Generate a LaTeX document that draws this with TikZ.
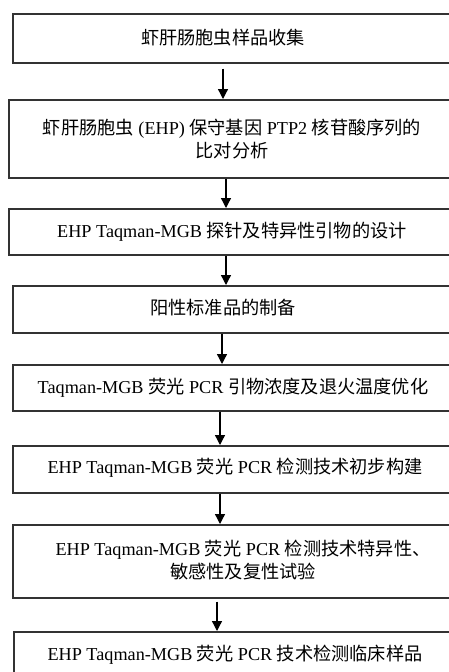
\documentclass[tikz,border=0pt]{standalone}
\usepackage{fontspec}
\setmainfont{Liberation Serif}
\newfontfamily\cjk{Noto Sans CJK SC}
\newcommand\zh[1]{{\cjk #1}}
\usetikzlibrary{arrows.meta}
\tikzset{
  box/.style={draw=black!80, line width=1.5pt, rectangle, anchor=north west, inner sep=0pt},
  lbl/.style={inner sep=0pt, align=center, font=\fontsize{18.2}{23}\selectfont},
  arr/.style={line width=1.3pt, draw=black, -{Triangle[width=10pt,length=10pt]}}
}
\begin{document}
\begin{tikzpicture}[x=1pt,y=-1pt]
\useasboundingbox (0,0) rectangle (449,672);
\clip (0,0) rectangle (449,672);
\node[box, minimum width=468pt, minimum height=49pt] (b1) at (12,13) {};
\node[box, minimum width=472pt, minimum height=78pt] (b2) at (8,99) {};
\node[box, minimum width=472pt, minimum height=46pt] (b3) at (8,208) {};
\node[box, minimum width=468pt, minimum height=47pt] (b4) at (12,285) {};
\node[box, minimum width=468pt, minimum height=46pt] (b5) at (12,364) {};
\node[box, minimum width=468pt, minimum height=47pt] (b6) at (12,445) {};
\node[box, minimum width=468pt, minimum height=73pt] (b7) at (12,524) {};
\node[box, minimum width=467pt, minimum height=60pt] (b8) at (13,631) {};

\node[lbl] (t1) at (223,38) {\zh{虾肝肠胞虫样品收集}};
\node[lbl] (t2) at (232,139) {\zh{虾肝肠胞虫} (EHP) \zh{保守基因} PTP2 \zh{核苷酸序列的}\\\zh{比对分析}};
\node[lbl] (t3) at (232,232) {EHP Taqman-MGB \zh{探针及特异性引物的设计}};
\node[lbl] (t4) at (223,308) {\zh{阳性标准品的制备}};
\node[lbl] (t5) at (233,388) {Taqman-MGB \zh{荧光} PCR \zh{引物浓度及退火温度优化}};
\node[lbl] (t6) at (235,468) {EHP Taqman-MGB \zh{荧光} PCR \zh{检测技术初步构建}};
\node[lbl] (t7) at (243,560) {EHP Taqman-MGB \zh{荧光} PCR \zh{检测技术特异性、}\\\zh{敏感性及复性试验}};
\node[lbl] (t8) at (235,655) {EHP Taqman-MGB \zh{荧光} PCR \zh{技术检测临床样品}};

\draw[arr] ([yshift=-5pt]b1.south -| 223,0) -- (b2.north -| 223,0);
\draw[arr] (b2.south -| 226,0) -- (b3.north -| 226,0);
\draw[arr] (b3.south -| 226,0) -- (b4.north -| 226,0);
\draw[arr] (b4.south -| 222,0) -- (b5.north -| 222,0);
\draw[arr] (b5.south -| 220,0) -- (b6.north -| 220,0);
\draw[arr] (b6.south -| 220,0) -- (b7.north -| 220,0);
\draw[arr] ([yshift=-3pt]b7.south -| 217,0) -- (b8.north -| 217,0);
\end{tikzpicture}
\end{document}
